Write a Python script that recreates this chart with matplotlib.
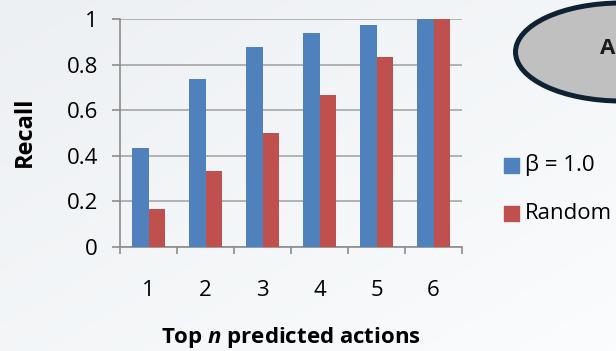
import matplotlib.pyplot as plt
import matplotlib.patches as patches
import numpy as np

# data
top_n = [1, 2, 3, 4, 5, 6]
beta_recall = [0.435, 0.735, 0.878, 0.94, 0.975, 1.0]
random_recall = [0.167, 0.333, 0.5, 0.667, 0.833, 1.0]
series_names = ["β = 1.0", "Random"]

plt.rcParams['font.family'] = ['Open Sans', 'DejaVu Sans']
plt.rcParams['mathtext.fontset'] = 'custom'
plt.rcParams['mathtext.it'] = 'Open Sans:italic:bold'
plt.rcParams['mathtext.rm'] = 'Open Sans:bold'

BLUE = '#4F81BD'
RED = '#C0504D'
BG = '#F2F5F8'
W, H = 616, 351

fig = plt.figure(figsize=(6.16, 3.51), dpi=100)
fig.patch.set_facecolor(BG)

# soft background gradient (greyer top-left, whiter bottom-right)
bg = fig.add_axes([0, 0, 1, 1], zorder=-10)
gx, gy = np.meshgrid(np.linspace(0, 1, 64), np.linspace(0, 1, 64))
g = (gx + gy) / 2
bg.imshow(g, cmap=plt.matplotlib.colors.LinearSegmentedColormap.from_list(
    'bgc', ['#EDF0F3', '#FAFCFD']), extent=[0, 1, 1, 0], aspect='auto')
bg.axis('off')

ax = fig.add_axes([120/W, (H - 247)/H, 342/W, 228/H])
ax.patch.set_alpha(0)

x = np.arange(len(top_n))
w = 0.29
ax.bar(x - w/2, beta_recall, w, color=BLUE, zorder=3)
ax.bar(x + w/2, random_recall, w, color=RED, zorder=3)

ax.set_xlim(-0.5, len(top_n) - 0.5)
ax.set_ylim(0, 1)
ax.set_yticks([0, 0.2, 0.4, 0.6, 0.8, 1.0])
ax.set_yticklabels(['0', '0.2', '0.4', '0.6', '0.8', '1'], fontsize=16)
ax.yaxis.grid(True, color='#A6A6A6', linewidth=1.2, zorder=0)
ax.tick_params(axis='y', length=6, width=1.2, color='#8C8C8C', pad=10)

ax.set_xticks(x)
ax.set_xticklabels([str(n) for n in top_n], fontsize=16)
ax.set_xticks(np.arange(-0.5, len(top_n)), minor=True)
ax.tick_params(axis='x', which='major', length=0, pad=24)
ax.tick_params(axis='x', which='minor', length=5, width=1.2, color='#8C8C8C')

for s in ['top', 'right']:
    ax.spines[s].set_visible(False)
for s in ['left', 'bottom']:
    ax.spines[s].set_color('#8C8C8C')
    ax.spines[s].set_linewidth(1.2)

fig.text(25/W, 1 - 132/H, 'Recall', rotation=90, fontsize=17,
         fontweight='bold', ha='center', va='center')
fig.text(291/W, 1 - 343/H, 'Top $n$ predicted actions', fontsize=16,
         fontweight='bold', ha='center', va='baseline')

# legend
for i, (name, col) in enumerate(zip(series_names, [BLUE, RED])):
    yc = 1 - (165.5 + 48*i)/H
    fig.add_artist(patches.Rectangle((504/W, yc - 7.5/H), 15/W, 15/H,
                                     transform=fig.transFigure, color=col))
    fig.text(525/W, yc, name, fontsize=16, va='center', ha='left')

# ellipse at top right (cut off by the figure edge)
ell = patches.Ellipse((621/W, 1 - 52/H), 2*105.5/W, 2*49/H,
                      transform=fig.transFigure, facecolor='#C0C0C0',
                      edgecolor='#0F2233', linewidth=3.6)
fig.add_artist(ell)
fig.text(600/W, 1 - 49/H, 'A', fontsize=16, fontweight='bold',
         color='#1A1A1A', va='center', ha='left')

fig.savefig('out.png', dpi=100, facecolor=fig.get_facecolor())
